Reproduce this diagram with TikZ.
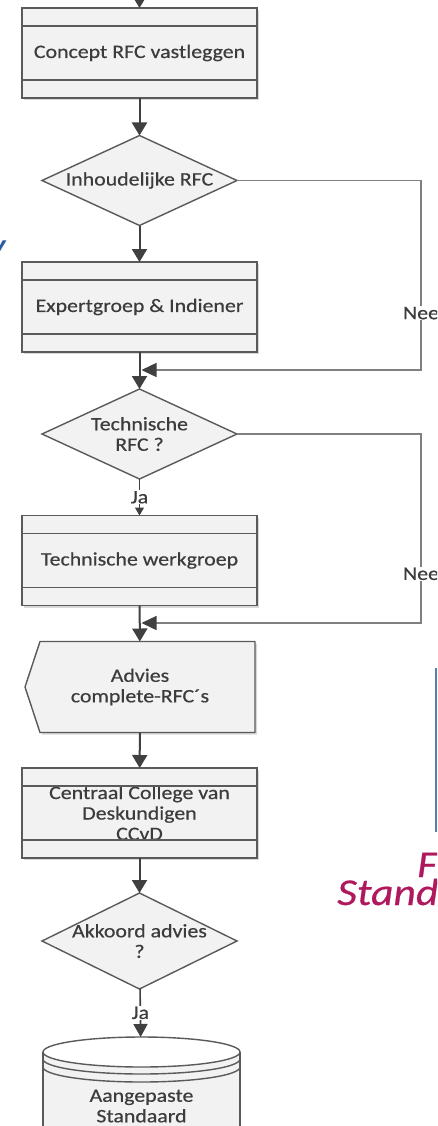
\documentclass[tikz,border=0pt]{standalone}
\usepackage{fontspec}
\setmainfont{Carlito}[FakeStretch=1.15,FakeBold=0.5]
\usetikzlibrary{arrows.meta,calc,shadows,shapes.geometric}
\definecolor{linegray}{HTML}{5A5A5A}
\definecolor{arrowgray}{HTML}{404040}
\definecolor{neegray}{HTML}{808080}
\definecolor{boxfill}{HTML}{F2F2F2}
\definecolor{textgray}{HTML}{3C3C3C}
\definecolor{slideblue}{HTML}{2A5CA8}
\definecolor{slidemagenta}{HTML}{B0185E}

\begin{document}
\begin{tikzpicture}[x=1pt,y=-1pt,
    every node/.style={font=\fontsize{19}{20.5}\selectfont, text=textgray},
    procbox/.style={draw=linegray, line width=1.6pt, fill=boxfill, outer sep=0pt,
      minimum width=235pt, minimum height=90pt, inner sep=0pt, align=center,
      drop shadow={shadow xshift=2pt, shadow yshift=-2pt, opacity=0.3}},
    barline/.style={draw=linegray, line width=1.4pt},
    decision/.style={diamond, draw=linegray, line width=1.4pt, fill=boxfill, outer sep=0pt,
      aspect=2.2, minimum width=195pt, minimum height=90pt, inner sep=-10pt, align=center},
    flow/.style={draw=arrowgray, line width=2pt, -{Triangle[width=15pt,length=13pt]}},
    thinflow/.style={draw=arrowgray, line width=1.2pt, -{Triangle[width=9pt,length=8pt]}},
    neeline/.style={draw=neegray, line width=1.4pt, -{Triangle[width=14pt,length=15pt,color=arrowgray]}, shorten >=2pt},
    lbl/.style={fill=white, inner sep=1pt}]
  % Frame of the picture
  \useasboundingbox (0,0) rectangle (437,1126);
  \clip (0,0) rectangle (437,1126);
  \fill[white] (0,0) rectangle (437,1126);

  % Bits of the slide behind
  \node[anchor=base east, text=slideblue, font=\fontsize{24}{24}\selectfont\bfseries\itshape] (slidey) at (9,252) {y};
  \draw[slideblue!80, line width=1.5pt] (436,668) -- (436,832);
  \node[anchor=base west, inner sep=0pt, text=slidemagenta, font=\fontsize{38}{38}\selectfont\itshape] (slidef) at (417,877) {F};
  \node[anchor=base west, inner sep=0pt, text=slidemagenta, font=\fontsize{38}{38}\selectfont\itshape] (slidestand) at (337,905) {Stand};

  % Draw the steps
  \node[procbox] (b1) at (139.5,53) {Concept RFC vastleggen};
  \node[decision] (d1) at (139.5,180.5) {Inhoudelijke RFC};
  \node[procbox] (b2) at (139.5,307) {Expertgroep \& Indiener};
  \node[decision] (d2) at (139.5,434) {Technische\\RFC ?};
  \node[procbox] (b3) at (139.5,560.5) {Technische werkgroep};
  \node[minimum width=230pt, minimum height=91pt, inner sep=0pt, outer sep=0pt, align=center] (adv) at (140,687) {};
  \draw[draw=linegray, line width=1.4pt, fill=boxfill, line join=round,
    drop shadow={shadow xshift=2pt, shadow yshift=-2pt, opacity=0.3}]
    (adv.north east) -- (adv.south east) -- ($(adv.south west)+(15,0)$)
    -- (adv.west) -- ($(adv.north west)+(15,0)$) -- cycle;
  \node[align=center] at (adv) {Advies\\complete-RFC´s};
  \node[procbox] (b4) at (139.5,813) {Centraal College van\\Deskundigen\\CCvD};
  \node[decision, minimum height=96pt] (d3) at (139.5,941) {Akkoord advies\\?};

  % Draw the database
  \node[minimum width=197pt, minimum height=140pt, inner sep=0pt, outer sep=0pt] (std) at (141.5,1107) {};
  \coordinate (stdtop) at ($(std.north)+(0,15)$);
  \fill[boxfill] ($(std.north west)+(0,15)$) -- (std.south west) -- (std.south east) -- ($(std.north east)+(0,15)$) -- cycle;
  \draw[barline] ($(std.north west)+(0,15)$) -- (std.south west);
  \draw[barline] ($(std.north east)+(0,15)$) -- (std.south east);
  \draw[barline, fill=white] (stdtop) ellipse [x radius=98.5pt, y radius=15pt];
  \draw[barline] ($(std.north west)+(0,22)$) arc [start angle=180, end angle=360, x radius=98.5pt, y radius=15pt];
  \draw[barline] ($(std.north west)+(0,30)$) arc [start angle=180, end angle=360, x radius=98.5pt, y radius=15pt];
  \node[align=center] at ($(std.north)+(0,69)$) {Aangepaste\\Standaard};

  % Bars in the boxes
  \foreach \b in {b1,b2,b3,b4} {
    \draw[barline] ($(\b.north west)+(0,18)$) -- ($(\b.north east)+(0,18)$);
    \draw[barline] ($(\b.south west)+(0,-18)$) -- ($(\b.south east)+(0,-18)$);
  }

  % Draw the arrows
  \coordinate (start) at (139.5,-20);
  \coordinate (m1) at (139.5,370);
  \coordinate (m2) at (139.5,623);
  \coordinate (c1) at (421,370);
  \coordinate (c2) at (421,623);
  \draw[flow] (start) -- (b1);
  \draw[flow] (b1) -- (d1);
  \draw[flow] (d1) -- (b2);
  \draw[flow] (b2) -- (d2);
  \draw[thinflow] (d2) -- node[lbl] {Ja} (b3);
  \draw[flow] (b3) -- (adv);
  \draw[flow] (adv) -- (b4);
  \draw[flow] (b4) -- (d3);
  \draw[thinflow, line width=1.6pt, -{Triangle[width=14pt,length=13pt]}] (d3) -- node[lbl] {Ja} (std);
  \draw[neeline] (d1.east) -| node[lbl, pos=0.85] {Nee} (c1) -- (m1);
  \draw[neeline] (d2.east) -| node[lbl, pos=0.87] {Nee} (c2) -- (m2);
\end{tikzpicture}
\end{document}
